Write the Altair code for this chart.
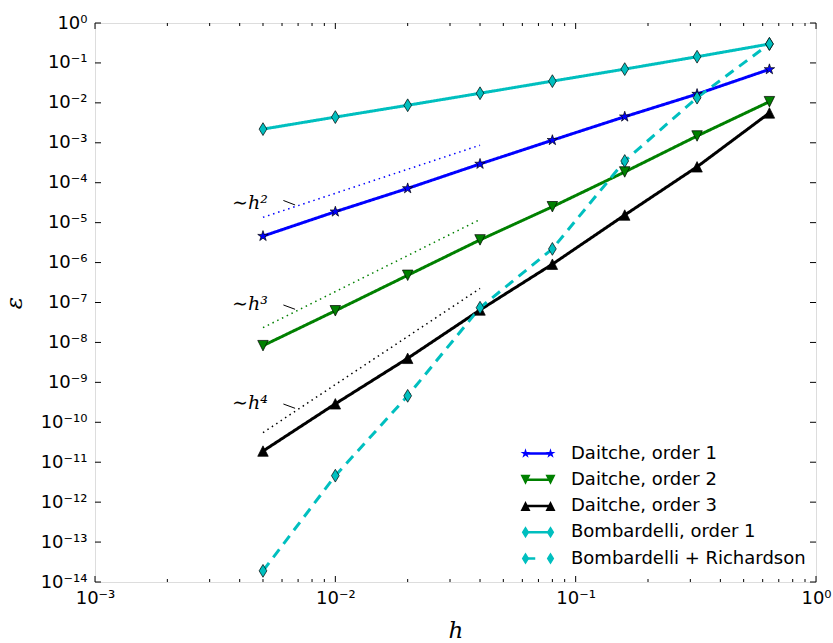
import altair as alt
import pandas as pd

# ---------------- data ----------------
h_values = [0.005, 0.01, 0.02, 0.04, 0.08, 0.16, 0.32, 0.64]
series_names = [
    "Daitche, order 1",
    "Daitche, order 2",
    "Daitche, order 3",
    "Bombardelli, order 1",
    "Bombardelli + Richardson",
]
daitche_1 = [4.6e-6, 1.88e-5, 7.2e-5, 2.95e-4, 1.16e-3, 4.5e-3, 1.66e-2, 6.9e-2]
daitche_2 = [8.3e-9, 6.2e-8, 4.8e-7, 3.7e-6, 2.5e-5, 1.86e-4, 1.48e-3, 1.07e-2]
daitche_3 = [1.9e-11, 2.9e-10, 4.0e-9, 6.5e-8, 9.1e-7, 1.55e-5, 2.5e-4, 5.6e-3]
bombardelli_1 = [2.2e-3, 4.4e-3, 8.7e-3, 1.74e-2, 3.5e-2, 7.0e-2, 1.43e-1, 2.98e-1]
bombardelli_rich = [1.9e-14, 4.6e-12, 4.6e-10, 7.4e-8, 2.2e-6, 3.5e-4, 1.35e-2, 3.0e-1]
series_values = [daitche_1, daitche_2, daitche_3, bombardelli_1, bombardelli_rich]

# reference slopes (dotted)
ref_h = [0.005, 0.04]
ref_eps_h2 = [1.36e-5, 8.7e-4]
ref_eps_h3 = [2.34e-8, 1.2e-5]
ref_eps_h4 = [5.5e-11, 2.25e-7]
ref_series = [ref_eps_h2, ref_eps_h3, ref_eps_h4]

# annotations
annot_labels = ["\u223ch\u00b2", "\u223ch\u00b3", "\u223ch\u2074"]
annot_text_h = [0.00372, 0.00372, 0.00372]
annot_text_eps = [2.2e-5, 6.5e-8, 2.15e-10]
annot_tick_h_start = [0.00608, 0.00608, 0.00608]
annot_tick_h_end = [0.0068, 0.0068, 0.0068]
annot_tick_eps_start = [3.59e-5, 8.67e-8, 2.87e-10]
annot_tick_eps_end = [2.77e-5, 6.76e-8, 2.24e-10]

# axes ticks / labels
x_major = [1e-3, 1e-2, 1e-1, 1.0]
x_minor = [k * m for m in (1e-3, 1e-2, 1e-1) for k in range(2, 10)]
y_major = [10.0 ** (-e) for e in range(15)]
x_tick_labels = ["10\u2070", "10\u207b\u00b9", "10\u207b\u00b2", "10\u207b\u00b3"]
sup = str.maketrans("-0123456789", "\u207b\u2070\u00b9\u00b2\u00b3\u2074\u2075\u2076\u2077\u2078\u2079")
y_tick_labels = ["10" + str(-e).translate(sup) for e in range(15)]

# ---------------- styles ----------------
W, H = 721, 559
FONT = "DejaVu Sans"
series_colors = ["#0000ff", "#008000", "#000000", "#00bfbf", "#00bfbf"]
series_dashes = [[1, 0], [1, 0], [1, 0], [1, 0], [10, 7]]
ref_colors = ["#0000ff", "#008000", "#000000"]

star = [(0, -1.05), (0.236, -0.324), (0.999, -0.324), (0.381, 0.124), (0.617, 0.849),
        (0, 0.401), (-0.617, 0.849), (-0.381, 0.124), (-0.999, -0.324), (-0.236, -0.324)]
tri_down = [(-1, -1), (1, -1), (0, 1)]
tri_up = [(0, -1), (1, 1), (-1, 1)]
diamond = [(0, -1.22), (0.74, 0), (0, 1.22), (-0.74, 0)]
marker_verts = [star, tri_down, tri_up, diamond, diamond]
legend_line_verts = [
    [(-2.5, -0.27), (2.5, -0.27), (2.5, 0.27), (-2.5, 0.27)],
    [(-2.5, -0.27), (2.5, -0.27), (2.5, 0.27), (-2.5, 0.27)],
    [(-2.5, -0.27), (2.5, -0.27), (2.5, 0.27), (-2.5, 0.27)],
    [(-2.5, -0.27), (2.5, -0.27), (2.5, 0.27), (-2.5, 0.27)],
    [(-2.5, -0.27), (-0.55, -0.27), (-0.55, 0.27), (-2.5, 0.27)],
]


def path(verts, dx=0.0):
    return "M" + "L".join(f"{x + dx:.3f},{y:.3f}" for x, y in verts) + "Z"


bound_ext = "M-3.7,-1.3L-3.7,-1.3M3.7,1.3L3.7,1.3"
marker_paths = [path(v) for v in marker_verts]
legend_marker_paths = [path(v, -2.5) + path(v, 2.5) + bound_ext for v in marker_verts]
legend_line_paths = [path(v) + bound_ext for v in legend_line_verts]

# ---------------- tables ----------------
df = pd.DataFrame(
    [{"series": n, "h": h, "eps": e}
     for n, vals in zip(series_names, series_values)
     for h, e in zip(h_values, vals)]
)
df_annot = pd.DataFrame({
    "label": annot_labels, "h": annot_text_h, "eps": annot_text_eps,
})
df_annot_tick = pd.DataFrame({
    "h": annot_tick_h_start, "h2": annot_tick_h_end,
    "eps": annot_tick_eps_start, "eps2": annot_tick_eps_end,
})
df_xmaj = pd.DataFrame({"h": x_major})
df_xmin = pd.DataFrame({"h": x_minor})
df_ymaj = pd.DataFrame({"eps": y_major})

# ---------------- scales / axes ----------------
x_label_expr = "[" + ",".join(f"'{s}'" for s in x_tick_labels) + "][round(-log(datum.value)/LN10)]"
y_label_expr = "[" + ",".join(f"'{s}'" for s in y_tick_labels) + "][round(-log(datum.value)/LN10)]"

scale_x = alt.Scale(type="log", domain=[1e-3, 1.0], nice=False)
scale_y = alt.Scale(type="log", domain=[1e-14, 1.0], nice=False)
axis_x = alt.Axis(values=x_major, labelExpr=x_label_expr, ticks=False, tickSize=0, domain=False,
                  grid=False, labelFont=FONT, labelFontSize=18, labelColor="black",
                  labelPadding=7, labelFlush=False, labelOverlap=False,
                  title="h", titleFont="DejaVu Serif", titleFontStyle="italic",
                  titleFontWeight="normal", titleFontSize=23, titleColor="black", titlePadding=12)
axis_y = alt.Axis(values=y_major, labelExpr=y_label_expr, ticks=False, tickSize=0, domain=False,
                  grid=False, labelFont=FONT, labelFontSize=18, labelColor="black",
                  labelPadding=8, labelFlush=False, labelOverlap=False,
                  title="\u03b5", titleFont="DejaVu Serif", titleFontStyle="italic",
                  titleFontWeight="normal", titleFontSize=23, titleColor="black", titlePadding=14)


def X(f="h"):
    return alt.X(f"{f}:Q", scale=scale_x, axis=axis_x)


def Y(f="eps"):
    return alt.Y(f"{f}:Q", scale=scale_y, axis=axis_y)


LX, LY, RP, LO = 434, 421.5, 8.25, 24
legend_common = dict(orient="none", legendX=LX, legendY=LY, title=None, values=series_names,
                     symbolSize=100, symbolOffset=0, padding=0, rowPadding=RP, labelOffset=LO,
                     labelFont=FONT, labelFontSize=18, labelColor="black", labelLimit=400,
                     symbolStrokeWidth=0.7, symbolOpacity=1)
legend_lines = alt.Legend(symbolStrokeColor="transparent", **legend_common)
legend_markers = alt.Legend(labelOpacity=0, symbolStrokeColor="black", **legend_common)

# ---------------- layers ----------------
layers = []
# inward ticks on all four sides
for d, ln in ((df_xmaj, 6), (df_xmin, 3)):
    layers.append(alt.Chart(d).mark_rule(color="black", strokeWidth=1).encode(
        x=X(), y=alt.value(H), y2=alt.value(H - ln)))
    layers.append(alt.Chart(d).mark_rule(color="black", strokeWidth=1).encode(
        x=X(), y=alt.value(0), y2=alt.value(ln)))
layers.append(alt.Chart(df_ymaj).mark_rule(color="black", strokeWidth=1).encode(
    y=Y(), x=alt.value(0), x2=alt.value(6)))
layers.append(alt.Chart(df_ymaj).mark_rule(color="black", strokeWidth=1).encode(
    y=Y(), x=alt.value(W), x2=alt.value(W - 6)))

# dotted slope references
for vals, c in zip(ref_series, ref_colors):
    d = pd.DataFrame({"h": ref_h, "eps": vals})
    layers.append(alt.Chart(d).mark_line(color=c, strokeWidth=1.5, strokeDash=[1.5, 3.8]).encode(
        x=X(), y=Y()))

# annotations
layers.append(alt.Chart(df_annot).mark_text(
    align="left", baseline="alphabetic", font="DejaVu Serif", fontStyle="italic",
    fontSize=19, color="black").encode(x=X(), y=Y(), text="label:N"))
layers.append(alt.Chart(df_annot_tick).mark_rule(color="black", strokeWidth=1).encode(
    x=X(), x2="h2:Q", y=Y(), y2="eps2:Q"))

# data lines
layers.append(alt.Chart(df).mark_line(strokeWidth=3).encode(
    x=X(), y=Y(),
    color=alt.Color("series:N", scale=alt.Scale(domain=series_names, range=series_colors),
                    legend=None),
    strokeDash=alt.StrokeDash("series:N", scale=alt.Scale(domain=series_names, range=series_dashes),
                              legend=None),
))
# data markers
layers.append(alt.Chart(df).mark_point(filled=True, size=110, stroke="black", strokeWidth=0.7,
                                      opacity=1).encode(
    x=X(), y=Y(),
    fill=alt.Fill("series:N", scale=alt.Scale(domain=series_names, range=series_colors),
                  legend=None),
    shape=alt.Shape("series:N", scale=alt.Scale(domain=series_names, range=marker_paths),
                    legend=None),
))
# invisible layers that only provide the legend (line part, then marker part)
layers.append(alt.Chart(df).mark_point(filled=True, size=100, opacity=0).encode(
    x=X(), y=Y(),
    fill=alt.Fill("series:N", scale=alt.Scale(domain=series_names, range=series_colors),
                  legend=legend_lines),
    shape=alt.Shape("series:N", scale=alt.Scale(domain=series_names, range=legend_line_paths),
                    legend=legend_lines),
))
layers.append(alt.Chart(df).mark_point(filled=True, size=100, opacity=0).encode(
    x=X(), y=Y(),
    fill=alt.Fill("series:N", scale=alt.Scale(domain=series_names[::-1], range=series_colors[::-1]),
                  legend=legend_markers),
    shape=alt.Shape("series:N", scale=alt.Scale(domain=series_names[::-1],
                                                range=legend_marker_paths[::-1]),
                    legend=legend_markers),
))

chart = alt.layer(*layers).resolve_scale(fill="independent", shape="independent").properties(
    width=W, height=H,
    padding={"left": 95, "top": 23, "right": 17, "bottom": 61},
    autosize=alt.AutoSizeParams(type="none"),
    background="white",
).configure_view(stroke="black", strokeWidth=1.2).configure(font=FONT)

chart.save("out.html", embed_options={"renderer": "svg", "actions": False})
